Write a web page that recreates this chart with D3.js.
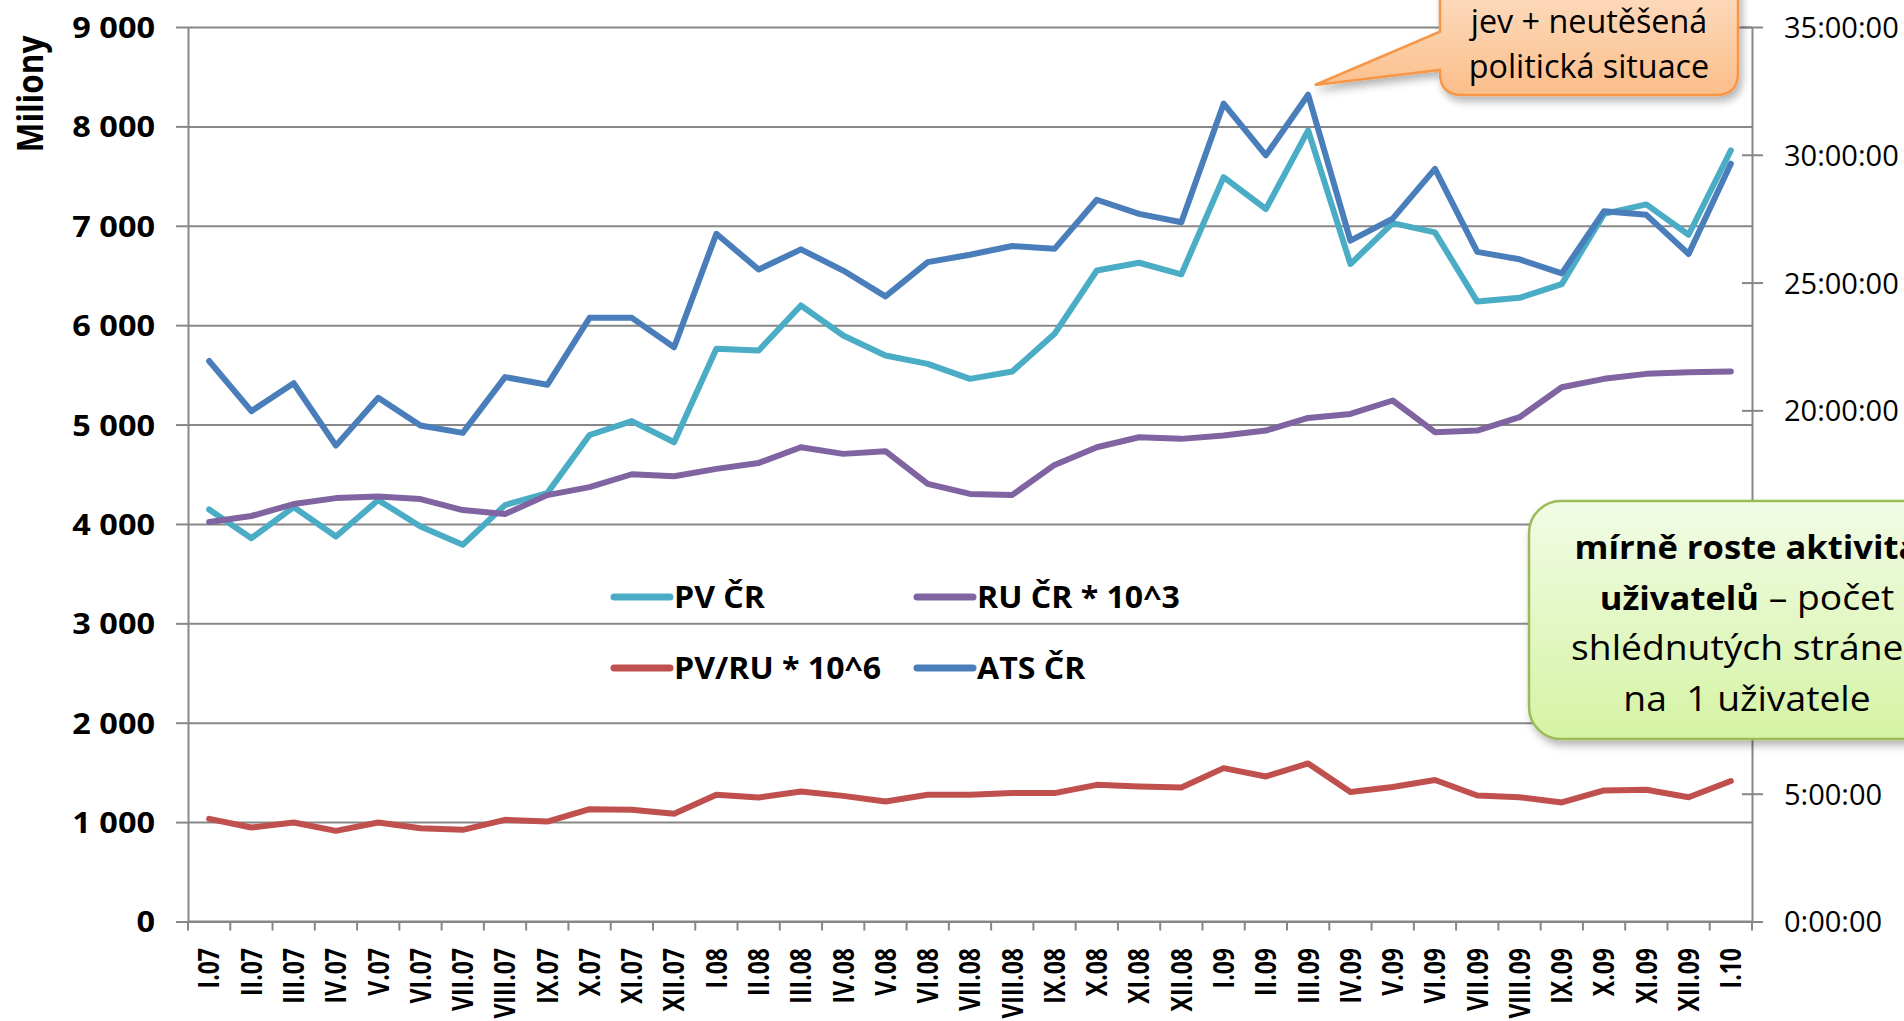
<!DOCTYPE html>
<html><head><meta charset="utf-8">
<script src="https://cdn.jsdelivr.net/npm/d3@7"></script>
<style>body{margin:0;background:#fff;} svg{display:block;font-family:'Open Sans',sans-serif;}</style>
</head><body><svg id="c" width="1904" height="1021"></svg>
<script>
const categories = ["I.07","II.07","III.07","IV.07","V.07","VI.07","VII.07","VIII.07","IX.07","X.07","XI.07","XII.07",
  "I.08","II.08","III.08","IV.08","V.08","VI.08","VII.08","VIII.08","IX.08","X.08","XI.08","XII.08",
  "I.09","II.09","III.09","IV.09","V.09","VI.09","VII.09","VIII.09","IX.09","X.09","XI.09","XII.09","I.10"];
const pvCR = [4145,3857,4170,3873,4240,3974,3790,4190,4310,4895,5035,4822,5762,5745,6198,5896,5695,5611,5460,5534,5913,6550,6628,6512,7489,7169,7960,6615,7027,6934,6237,6275,6413,7120,7215,6910,7758];
const ruCR = [4020,4080,4200,4260,4275,4250,4140,4100,4290,4370,4500,4480,4554,4614,4772,4705,4732,4403,4302,4292,4594,4772,4872,4856,4889,4940,5067,5107,5242,4923,4940,5074,5376,5460,5510,5527,5534];
const pvPerRu = [1033,946,996,912,996,939,922,1023,1006,1130,1124,1085,1275,1248,1308,1264,1207,1275,1275,1292,1292,1375,1359,1349,1543,1459,1590,1302,1354,1424,1268,1250,1198,1319,1326,1250,1413];
const atsHours = [21.93,19.97,21.06,18.62,20.49,19.41,19.12,21.30,21.00,23.62,23.62,22.47,26.91,25.51,26.30,25.47,24.46,25.80,26.09,26.43,26.32,28.24,27.69,27.36,32.00,29.98,32.35,26.64,27.50,29.45,26.20,25.91,25.36,27.79,27.65,26.12,29.65];
const leftTicks = [0,1000,2000,3000,4000,5000,6000,7000,8000,9000];
const rightTicks = [0,5,10,15,20,25,30,35];
const rightTicksCovered = [10,15];   // hidden behind the green callout in the original
const seriesNames = ["PV ČR","RU ČR * 10^3","PV/RU * 10^6","ATS ČR"];
const seriesColors = ["#4BACC6","#8064A2","#C0504D","#4A7EBB"];
const yTitle = "Miliony";
const calloutTopLines = ["jev + neutěšená","politická situace"];
const calloutRightLines = [
  [{t:"mírně roste aktivita",b:true}],
  [{t:"uživatelů",b:true},{t:" – počet",b:false}],
  [{t:"shlédnutých stránek",b:false}],
  [{t:"na  1 uživatele",b:false}]
];

const svg = d3.select("#c");
svg.append("rect").attr("width",1904).attr("height",1021).attr("fill","#fff");
const defs = svg.append("defs");
const f = defs.append("filter").attr("id","sh").attr("x","-20%").attr("y","-20%").attr("width","140%").attr("height","150%");
f.append("feDropShadow").attr("dx",3).attr("dy",5).attr("stdDeviation",4).attr("flood-color","#000").attr("flood-opacity",0.3);
const go = defs.append("linearGradient").attr("id","gOr").attr("gradientUnits","userSpaceOnUse").attr("x1",0).attr("x2",0).attr("y1",-60).attr("y2",95);
go.append("stop").attr("offset","0%").attr("stop-color","#FEE9D8");
go.append("stop").attr("offset","100%").attr("stop-color","#FBBE8A");
const gg = defs.append("linearGradient").attr("id","gGr").attr("x1",0).attr("x2",0).attr("y1",0).attr("y2",1);
gg.append("stop").attr("offset","0%").attr("stop-color","#F2FCE6");
gg.append("stop").attr("offset","100%").attr("stop-color","#D5F3A4");

const X0=188, X1=1752, Y0=921.5, Y1=27;
const GRID="#878787";
const x = d3.scaleBand().domain(categories).range([X0,X1]);
const cx = c => x(c)+x.bandwidth()/2;
const yL = d3.scaleLinear().domain([0,9000]).range([Y0,Y1]);
const yR = d3.scaleLinear().domain([0,35]).range([Y0,Y1]);

// grid
const grid = svg.append("g").attr("transform",`translate(${X0},0)`)
  .call(d3.axisLeft(yL).tickValues(leftTicks).tickSize(-(X1-X0)).tickFormat(""));
grid.select(".domain").remove();
grid.selectAll("line").attr("stroke",GRID).attr("stroke-width",2);

// left axis
const fmt = d3.formatLocale({decimal:",",thousands:" ",grouping:[3],currency:["",""]}).format(",d");
const ax = svg.append("g").attr("transform",`translate(${X0},0)`)
  .call(d3.axisLeft(yL).tickValues(leftTicks).tickSize(12).tickSizeOuter(0).tickFormat(fmt));
ax.select(".domain").attr("stroke",GRID).attr("stroke-width",2);
ax.selectAll("line").attr("stroke",GRID).attr("stroke-width",2);
ax.selectAll("text").attr("x",0).attr("dy","0.36em").attr("transform","translate(-33,0) scale(1.12,1)")
  .attr("font-family","'Open Sans',sans-serif").attr("font-size",29).attr("font-weight",700).attr("fill","#000");

// right axis (cross ticks)
const ar = svg.append("g").attr("transform",`translate(${X1},0)`)
  .call(d3.axisRight(yR).tickValues(rightTicks).tickSize(11).tickSizeOuter(0).tickPadding(21)
    .tickFormat(h => rightTicksCovered.includes(h) ? "" : h+":00:00"));
ar.select(".domain").attr("stroke",GRID).attr("stroke-width",2);
ar.selectAll(".tick line").attr("x1",-10).attr("stroke",GRID).attr("stroke-width",2);
ar.selectAll("text").attr("dy","0.36em").attr("font-family","'Open Sans',sans-serif").attr("font-size",29).attr("fill","#000");

// x axis
const xa = svg.append("g");
xa.append("line").attr("x1",X0).attr("x2",X1).attr("y1",Y0).attr("y2",Y0).attr("stroke",GRID).attr("stroke-width",2);
xa.selectAll("line.tk").data(categories.map(c=>x(c)).concat([X1])).join("line").attr("class","tk")
  .attr("x1",d=>d).attr("x2",d=>d).attr("y1",Y0).attr("y2",Y0+9).attr("stroke",GRID).attr("stroke-width",2);
xa.selectAll("g.lb").data(categories).join("g").attr("class","lb")
  .attr("transform",c=>`translate(${cx(c)},948) rotate(-90) scale(1,1.25)`)
  .append("text").attr("text-anchor","end").attr("dy","0.36em").attr("font-size",23).attr("font-weight",700).attr("fill","#000").text(c=>c);

// y title
svg.append("g").attr("transform","translate(30,94) rotate(-90) scale(1,1.15)")
  .append("text").attr("text-anchor","middle").attr("dy","0.36em").attr("font-size",31.5).attr("font-weight",700).text(yTitle);

// lines
const lineL = d3.line().x((d,i)=>cx(categories[i])).y(d=>yL(d));
const lineR = d3.line().x((d,i)=>cx(categories[i])).y(d=>yR(d));
const lg = svg.append("g").attr("fill","none").attr("stroke-width",6).attr("stroke-linejoin","round").attr("stroke-linecap","round");
lg.append("path").attr("d",lineL(pvCR)).attr("stroke",seriesColors[0]);
lg.append("path").attr("d",lineL(ruCR)).attr("stroke",seriesColors[1]);
lg.append("path").attr("d",lineL(pvPerRu)).attr("stroke",seriesColors[2]);
lg.append("path").attr("d",lineR(atsHours)).attr("stroke",seriesColors[3]);

// legend
const legPos = [[614,597],[917,597],[614,668],[917,668]];
const leg = svg.append("g");
seriesNames.forEach((n,i)=>{
  const [lx,ly] = legPos[i];
  leg.append("line").attr("x1",lx).attr("x2",lx+56).attr("y1",ly).attr("y2",ly).attr("stroke",seriesColors[i]).attr("stroke-width",7).attr("stroke-linecap","round");
  leg.append("g").attr("transform",`translate(${lx+60},${ly}) scale(1.07,1)`)
    .append("text").attr("dy","0.36em").attr("font-size",30).attr("font-weight",700).attr("fill","#000").text(n);
});

// orange callout
{
  const x1=1440,x2=1738,yt=-60,yb=95,r=22;
  const p = `M${x1+r},${yt} H${x2-r} Q${x2},${yt} ${x2},${yt+r} V${yb-r} Q${x2},${yb} ${x2-r},${yb} H${x1+r} Q${x1},${yb} ${x1},${yb-r} V70 L1315,85 L${x1},31.7 V${yt+r} Q${x1},${yt} ${x1+r},${yt} Z`;
  svg.append("path").attr("d",p).attr("fill","url(#gOr)").attr("stroke","#F79646").attr("stroke-width",2.5).attr("filter","url(#sh)");
  calloutTopLines.forEach((t,i)=>{
    svg.append("g").attr("transform",`translate(1589,${33+i*44.5}) scale(1.01,1)`)
      .append("text").attr("text-anchor","middle").attr("font-size",32).attr("fill","#000").text(t);
  });
}
// green callout
{
  const x1=1529,x2=1965,yt=501,yb=739,r=32;
  svg.append("rect").attr("x",x1).attr("y",yt).attr("width",x2-x1).attr("height",yb-yt).attr("rx",r)
    .attr("fill","url(#gGr)").attr("stroke","#9BBB59").attr("stroke-width",2.5).attr("filter","url(#sh)");
  calloutRightLines.forEach((parts,i)=>{
    const t = svg.append("g").attr("transform",`translate(1747,${559+i*50.5}) scale(1.08,1)`)
      .append("text").attr("text-anchor","middle").style("white-space","pre").attr("fill","#000");
    parts.forEach(p=>t.append("tspan").attr("font-weight",p.b?700:400).attr("font-size",p.b?32:34.5).text(p.t));
  });
}
</script></body></html>
